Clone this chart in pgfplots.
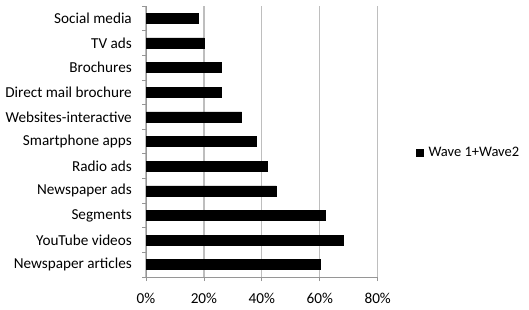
\documentclass[border=0pt]{standalone}
\usepackage{pgfplots}
\pgfplotsset{compat=1.18}
\usepackage{fontspec}
\setmainfont{Carlito}
\definecolor{gridgray}{RGB}{190,190,190}
\definecolor{axisgray}{RGB}{150,150,150}
\begin{document}
\begin{tikzpicture}
\useasboundingbox (0pt,0pt) rectangle (529pt,309pt);
\begin{axis}[
  at={(146pt,32pt)}, anchor=south west,
  width=231.7pt, height=271pt, scale only axis,
  xbar, bar width=10pt,
  xmin=0, xmax=80, ymin=-0.5, ymax=10.5,
  xtick={0,20,40,60,80},
  xticklabel={\pgfmathprintnumber{\tick}\%},
  ytick={0,...,10},
  minor ytick={-0.5,0.5,...,10.5},
  yticklabels={Newspaper articles,YouTube videos,Segments,Newspaper ads,Radio ads,Smartphone apps,Websites-interactive,Direct mail brochure,Brochures,TV ads,Social media},
  axis x line*=bottom, axis y line*=left,
  axis line style={axisgray, line width=0.8pt, -},
  xmajorgrids, grid style={gridgray, line width=1.2pt},
  tick align=outside,
  major tick length=4pt, minor tick length=4pt,
  major y tick style={draw=none},
  minor y tick style={axisgray, line width=0.8pt},
  major x tick style={axisgray, line width=0.8pt},
  /pgf/number format/assume math mode=true,
  tick label style={font=\fontsize{15.2}{18}\selectfont, text=black},
  xticklabel style={anchor=center, yshift=-17pt},
  yticklabel style={anchor=east, inner sep=0pt, xshift=-10pt},
  legend style={at={(1.165,0.4576)}, anchor=west, draw=none, fill=none,
    font=\fontsize{14.5}{18}\selectfont, inner sep=0pt},
  legend image code/.code={\fill[black] (0pt,-3.5pt) rectangle (7pt,3.5pt); \path (10pt,0pt);},
]
\addplot[fill=black, draw=black] coordinates {
 (60,0) (68,1) (62,2) (45,3) (42,4) (38,5) (33,6) (26,7) (26,8) (20,9) (18,10)
};
\addlegendentry{Wave 1+Wave2}
\end{axis}
\end{tikzpicture}
\end{document}
